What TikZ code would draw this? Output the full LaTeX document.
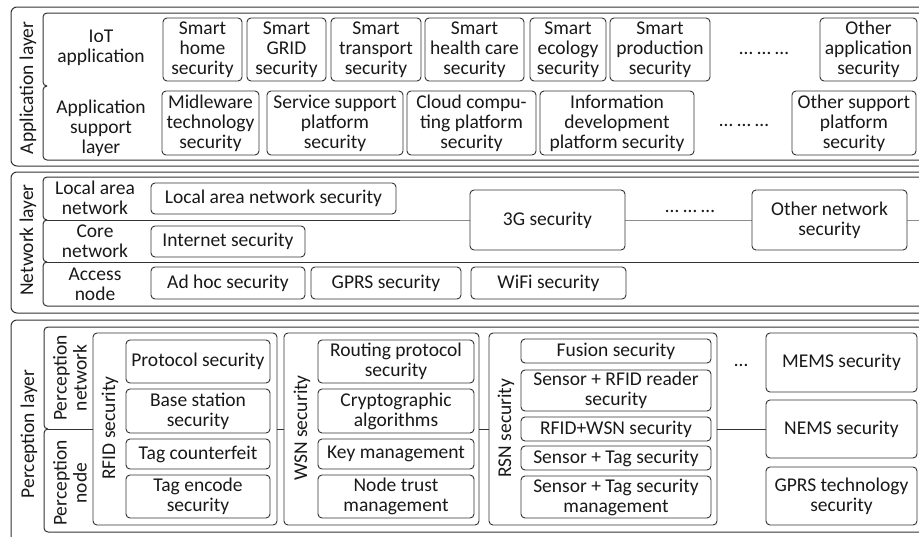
\documentclass[tikz,border=0pt]{standalone}
\usepackage{fontspec}
\setmainfont{Carlito}
\tikzset{
  frame/.style={draw=black!80, line width=1pt},
  sbox/.style={draw=black!80, line width=0.9pt, rounded corners=4pt, fill=white, align=center, inner sep=0pt, text=black!90},
  lbl/.style={align=center, inner sep=0pt, text=black!90},
  vlbl/.style={lbl, rotate=90},
  link/.style={draw=black!80, line width=0.9pt},
}
\newcommand{\mybox}[6]{\node[sbox, minimum width={(#4-#2)*1pt}, minimum height={(#5-#3)*1pt}] (#1) at ({(#2+#4)/2},{(#3+#5)/2}) {#6};}
\begin{document}
\begin{tikzpicture}[x=1pt,y=-1pt, font=\fontsize{19.5pt}{20pt}\selectfont]
\useasboundingbox (0,0) rectangle (919,536);
\clip (0,0) rectangle (919,536);
\fill[white] (0,0) rectangle (919,536);

% ---------------- Application layer
\draw[frame, rounded corners=6pt] (11,7) rectangle (1000,166);
\draw[frame, rounded corners=4pt] (1000,13) -- (43,13) -- (43,86) -- (47,86);
\draw[frame, rounded corners=4pt] (47,86) -- (43,86) -- (43,160) -- (1000,160);
\node[vlbl] (applayer) at (28,88) {Application layer};
\node[lbl] (iotapp) at (101,48) {IoT\\application};
\node[lbl] (appsup) at (101,128) {Application\\support\\layer};

\mybox{home}{163}{18}{242}{81}{Smart\\home\\security}
\mybox{grid}{247}{18}{326}{81}{Smart\\GRID\\security}
\mybox{transport}{331}{18}{421}{81}{Smart\\transport\\security}
\mybox{health}{425}{18}{524}{81}{Smart\\health care\\security}
\mybox{ecology}{530}{18}{606}{81}{Smart\\ecology\\security}
\mybox{production}{610}{18}{710}{81}{Smart\\production\\security}
\node[lbl] (dots1) at (764,53) {… … …};
\mybox{otherapp}{820}{18}{917}{81}{Other\\application\\security}

\mybox{midware}{162}{91}{259}{155}{Midleware\\technology\\security}
\mybox{service}{267}{91}{403}{155}{Service support\\platform\\security}
\mybox{cloud}{407}{91}{536}{155}{Cloud compu-\\ting platform\\security}
\mybox{info}{540}{91}{694}{155}{Information\\development\\platform security}
\node[lbl] (dots2) at (744,125) {… … …};
\mybox{othersup}{792}{91}{916}{155}{Other support\\platform\\security}

% ---------------- Network layer
\draw[frame, rounded corners=6pt] (11,172) rectangle (1000,313);
\draw[frame, rounded corners=4pt] (1000,177) -- (43,177) -- (43,220) -- (47,220);
\draw[frame, rounded corners=4pt] (47,220) -- (43,220) -- (43,262) -- (47,262);
\draw[frame, rounded corners=4pt] (47,262) -- (43,262) -- (43,306) -- (1000,306);
\draw[frame] (47,220) -- (400,220);
\draw[frame, draw=black!45] (400,220) -- (1000,220);
\draw[frame] (47,262) -- (1000,262);

\node[vlbl] (netlayer) at (28,240) {Network layer};
\node[lbl] (lan) at (95,198) {Local area\\network};
\node[lbl] (core) at (95,241) {Core\\network};
\node[lbl] (access) at (95,284) {Access\\node};

\mybox{lansec}{151}{183}{396}{214}{Local area network security}
\mybox{inetsec}{151}{226}{305}{257}{Internet security}
\mybox{adhoc}{151}{267}{305}{299}{Ad hoc security}
\mybox{gprs}{311}{267}{461}{299}{GPRS security}
\mybox{wifi}{471}{267}{626}{299}{WiFi security}
\mybox{threeg}{470}{190}{625}{250}{3G security}
\node[lbl] (dots3) at (690,211) {… … …};
\mybox{othernet}{752}{190}{907}{250}{Other network\\security}

% ---------------- Perception layer
\draw[frame, rounded corners=6pt] (11,320) rectangle (1000,545);
\draw[frame, rounded corners=4pt] (1000,327) -- (44,327) -- (44,429) -- (48,429);
\draw[frame, rounded corners=4pt] (48,429) -- (44,429) -- (44,532) -- (1000,532);

\node[vlbl] (perlayer) at (29,434) {Perception layer};
\node[vlbl] (pernet) at (70,378) {Perception\\network};
\node[vlbl] (pernode) at (70,483) {Perception\\node};

\mybox{rfid}{93}{333}{277}{525}{}
\mybox{wsn}{284}{333}{479}{525}{}
\mybox{rsn}{489}{333}{717}{525}{}
\draw[frame] (48,429) -- (rfid.west);

\node[vlbl] (rfidl) at (110,428) {RFID security};
\node[vlbl] (wsnl) at (302,428) {WSN security};
\node[vlbl] (rsnl) at (506,428) {RSN security};

\mybox{protocol}{126}{340}{270}{383}{Protocol security}
\mybox{basest}{126}{389}{270}{433}{Base station\\security}
\mybox{tagcf}{126}{439}{270}{469}{Tag counterfeit}
\mybox{tagenc}{126}{475}{270}{518}{Tag encode\\security}

\mybox{routing}{318}{340}{474}{383}{Routing protocol\\security}
\mybox{crypto}{318}{389}{474}{433}{Cryptographic\\algorithms}
\mybox{keymgmt}{318}{439}{474}{469}{Key management}
\mybox{nodetrust}{318}{475}{474}{518}{Node trust\\management}

\mybox{fusion}{521}{339}{711}{363}{Fusion security}
\mybox{sensrfid}{521}{370}{711}{411}{Sensor + RFID reader\\security}
\mybox{rfidwsn}{521}{417}{711}{441}{RFID+WSN security}
\mybox{senstag}{521}{446}{711}{470}{Sensor + Tag security}
\mybox{senstagm}{521}{476}{711}{518}{Sensor + Tag security\\management}

\node[lbl] (dots4) at (741,365) {…};
\mybox{mems}{766}{333}{917}{392}{MEMS security}
\mybox{nems}{766}{400}{917}{458}{NEMS security}
\mybox{gprstech}{766}{467}{917}{525}{GPRS technology\\security}

\draw[link] (rfid.east) -- (wsn.west);
\draw[link] (wsn.east) -- (rsn.west);
\draw[link] (rsn.east) -- (nems.west);
\end{tikzpicture}
\end{document}
